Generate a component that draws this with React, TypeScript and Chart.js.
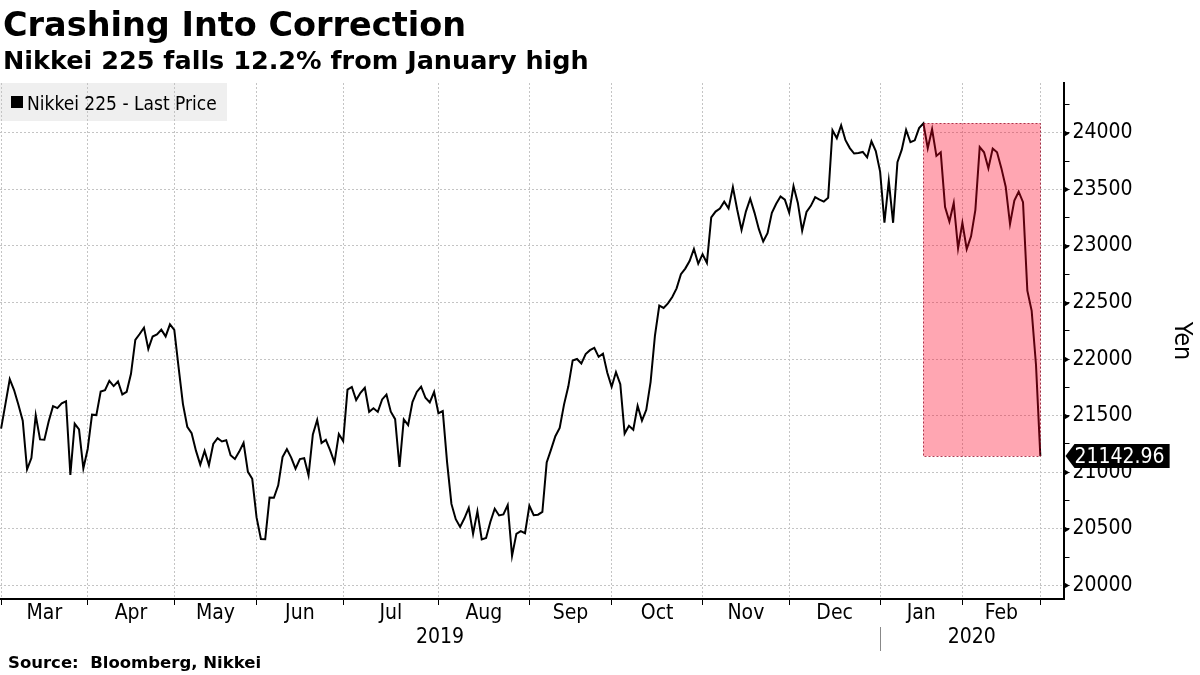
import React, { useEffect, useRef } from "react";
import { Chart, registerables } from "chart.js";

Chart.register(...registerables);

// Nikkei 225 daily closes, one per Tokyo trading day: 28 Feb 2019 .. 28 Feb 2020
const febEnd2019 = [21385.16];
const mar2019 = [21602.69, 21822.04, 21726.28, 21596.81, 21456.01, 21025.56, 21125.09, 21503.69, 21290.24, 21287.02, 21450.85, 21584.5, 21566.85, 21608.92, 21627.34, 20977.11, 21428.39, 21378.21, 21033.76, 21205.81];
const apr2019 = [21509.03, 21505.31, 21713.21, 21724.95, 21807.5, 21761.65, 21802.59, 21687.57, 21711.38, 21870.56, 22169.11, 22221.66, 22277.97, 22090.12, 22200.0, 22217.9, 22259.74, 22200.56, 22307.58, 22258.73];
const may2019 = [21923.72, 21602.59, 21402.13, 21344.92, 21191.28, 21067.23, 21188.56, 21062.98, 21250.09, 21301.73, 21272.45, 21283.37, 21151.14, 21117.22, 21182.58, 21260.14, 21003.37, 20942.53, 20601.19];
const jun2019 = [20410.88, 20408.54, 20776.1, 20774.04, 20884.71, 21134.42, 21204.28, 21129.72, 21032.0, 21116.89, 21124.0, 20972.71, 21333.87, 21462.86, 21258.64, 21285.99, 21193.81, 21086.59, 21338.17, 21275.92];
const jul2019 = [21729.97, 21754.27, 21638.16, 21702.45, 21746.38, 21534.35, 21565.15, 21533.48, 21643.53, 21685.9, 21535.25, 21469.18, 21046.24, 21466.99, 21416.79, 21620.88, 21709.57, 21756.55, 21658.15, 21616.8, 21709.31, 21521.53];
const aug2019 = [21540.99, 21087.16, 20720.29, 20585.31, 20516.56, 20593.35, 20684.82, 20455.44, 20655.13, 20405.65, 20418.81, 20563.16, 20677.22, 20618.57, 20628.01, 20710.91, 20261.04, 20456.08, 20479.42, 20460.93, 20704.37];
const sep2019 = [20620.19, 20625.16, 20649.14, 21085.94, 21199.57, 21318.42, 21392.1, 21597.76, 21759.61, 21988.29, 22001.32, 21960.71, 22044.45, 22079.09, 22098.84, 22020.15, 22048.24, 21878.9, 21755.84];
const oct2019 = [21885.24, 21778.61, 21341.74, 21410.2, 21375.25, 21587.78, 21456.38, 21551.98, 21798.87, 22207.21, 22472.92, 22451.86, 22492.68, 22548.9, 22625.38, 22750.6, 22799.81, 22867.27, 22974.13, 22843.12, 22927.04];
const nov2019 = [22850.77, 23251.99, 23303.82, 23330.32, 23391.87, 23331.84, 23520.01, 23319.87, 23141.55, 23303.32, 23416.76, 23292.65, 23148.57, 23038.58, 23112.88, 23292.81, 23373.32, 23437.77, 23409.14, 23293.91];
const dec2019 = [23529.5, 23379.81, 23135.23, 23300.09, 23354.4, 23430.7, 23410.19, 23391.86, 23424.81, 24023.1, 23952.35, 24066.12, 23934.43, 23864.85, 23816.63, 23821.11, 23830.58, 23782.87, 23924.92, 23837.72, 23656.62];
const jan2020 = [23204.86, 23575.72, 23204.76, 23739.87, 23850.57, 24025.17, 23916.58, 23933.13, 24041.26, 24083.51, 23864.56, 24031.35, 23795.44, 23827.18, 23343.51, 23215.71, 23379.4, 22977.75, 23205.18];
const feb2020 = [22971.94, 23084.59, 23319.56, 23873.59, 23827.98, 23685.98, 23861.21, 23827.73, 23687.59, 23523.24, 23193.8, 23400.7, 23479.15, 23386.74, 22605.41, 22426.19, 21948.23, 21142.96];

const monthBlocks = [mar2019, apr2019, may2019, jun2019, jul2019, aug2019, sep2019, oct2019, nov2019, dec2019, jan2020, feb2020];
const monthLabels = ["Mar", "Apr", "May", "Jun", "Jul", "Aug", "Sep", "Oct", "Nov", "Dec", "Jan", "Feb"];
const yearLabels = ["2019", "2020"];
const yearFirstMonth = [0, 10]; // index into monthLabels where each year begins
const yMajorTicks = [20000, 20500, 21000, 21500, 22000, 22500, 23000, 23500, 24000];
const yMinorTicks = [20250, 20750, 21250, 21750, 22250, 22750, 23250, 23750, 24250];
const yRange = [19880, 24440];

const seriesName = "Nikkei 225 - Last Price";
const axisTitle = "Yen";
const titleText = "Crashing Into Correction";
const subtitleText = "Nikkei 225 falls 12.2% from January high";
const sourceText = "Source:  Bloomberg, Nikkei";

const closes: number[] = [...febEnd2019, ...monthBlocks.flat()];
// index of the last trading day of each month (first entry = end of Feb 2019)
const monthEnds: number[] = [0];
monthBlocks.forEach((b) => monthEnds.push(monthEnds[monthEnds.length - 1] + b.length));

const COND = '"DejaVu Sans Condensed", "DejaVu Sans", sans-serif';
const BOLD = '"DejaVu Sans", sans-serif';

export default function App() {
  const ref = useRef<HTMLCanvasElement | null>(null);

  useEffect(() => {
    const canvas = ref.current;
    if (!canvas) return;
    const lastIdx = closes.length - 1;
    const lastVal = closes[lastIdx];
    let highIdx = 0;
    closes.forEach((v, i) => {
      if (v > closes[highIdx]) highIdx = i;
    });
    const highVal = closes[highIdx];

    const overlay = {
      id: "overlay",
      beforeDraw(chart: any) {
        const { ctx } = chart;
        ctx.save();
        ctx.fillStyle = "#ffffff";
        ctx.fillRect(0, 0, chart.width, chart.height);
        ctx.fillStyle = "#efefef";
        ctx.fillRect(0, chart.chartArea.top, 227, 38);
        ctx.restore();
      },
      afterDatasetsDraw(chart: any) {
        const { ctx } = chart;
        const xs = chart.scales.x;
        const ys = chart.scales.y;
        const x1 = xs.getPixelForValue(highIdx);
        const x2 = xs.getPixelForValue(lastIdx);
        const y1 = ys.getPixelForValue(highVal);
        const y2 = ys.getPixelForValue(lastVal);
        ctx.save();
        ctx.fillStyle = "rgba(255,0,35,0.35)";
        ctx.fillRect(x1, y1, x2 - x1, y2 - y1);
        ctx.setLineDash([2, 2]);
        ctx.lineWidth = 1;
        ctx.strokeStyle = "rgba(150,0,30,0.75)";
        ctx.strokeRect(Math.round(x1) + 0.5, Math.round(y1) + 0.5, Math.round(x2 - x1), Math.round(y2 - y1));
        ctx.restore();
      },
      afterDraw(chart: any) {
        const { ctx, chartArea } = chart;
        const xs = chart.scales.x;
        const ys = chart.scales.y;
        const axisX = chartArea.right;
        ctx.save();
        // major tick arrows
        ctx.fillStyle = "#000";
        yMajorTicks.forEach((v) => {
          const py = Math.round(ys.getPixelForValue(v)) + 0.5;
          ctx.beginPath();
          ctx.moveTo(axisX, py - 3.5);
          ctx.lineTo(axisX + 6, py);
          ctx.lineTo(axisX, py + 3.5);
          ctx.closePath();
          ctx.fill();
        });
        // month labels
        ctx.font = `21px ${COND}`;
        ctx.textAlign = "center";
        ctx.textBaseline = "middle";
        ctx.fillStyle = "#000";
        monthLabels.forEach((m, k) => {
          const cx = (xs.getPixelForValue(monthEnds[k]) + xs.getPixelForValue(monthEnds[k + 1])) / 2;
          ctx.fillText(m, cx, chartArea.bottom + 15);
        });
        // year labels
        yearLabels.forEach((yr, k) => {
          const startPx = k === 0 ? chartArea.left : xs.getPixelForValue(monthEnds[yearFirstMonth[k]]);
          const endPx = k + 1 < yearLabels.length ? xs.getPixelForValue(monthEnds[yearFirstMonth[k + 1]]) : chartArea.right;
          ctx.fillText(yr, (startPx + endPx) / 2, chartArea.bottom + 39);
        });
        // year separators
        ctx.strokeStyle = "#888";
        ctx.lineWidth = 1;
        yearFirstMonth.slice(1).forEach((m) => {
          const px = Math.round(xs.getPixelForValue(monthEnds[m])) + 0.5;
          ctx.beginPath();
          ctx.moveTo(px, chartArea.bottom + 28);
          ctx.lineTo(px, chartArea.bottom + 52);
          ctx.stroke();
        });
        // last value tag
        const ly = ys.getPixelForValue(lastVal);
        const label = lastVal.toFixed(2);
        ctx.font = `21px ${COND}`;
        const tw = ctx.measureText(label).width;
        const bx = axisX + 11;
        ctx.fillStyle = "#000";
        ctx.beginPath();
        ctx.moveTo(axisX + 2, ly);
        ctx.lineTo(bx, ly - 12);
        ctx.lineTo(bx + tw + 5, ly - 12);
        ctx.lineTo(bx + tw + 5, ly + 12);
        ctx.lineTo(bx, ly + 12);
        ctx.closePath();
        ctx.fill();
        ctx.fillStyle = "#fff";
        ctx.textAlign = "left";
        ctx.fillText(label, bx, ly + 1);
        // axis title
        ctx.fillStyle = "#000";
        ctx.save();
        ctx.font = `25px ${COND}`;
        ctx.translate(1175, (chartArea.top + chartArea.bottom) / 2);
        ctx.rotate(Math.PI / 2);
        ctx.textAlign = "center";
        ctx.textBaseline = "alphabetic";
        ctx.fillText(axisTitle, 0, 0);
        ctx.restore();
        // legend
        const ltop = chartArea.top;
        ctx.fillStyle = "#000";
        ctx.fillRect(11, ltop + 13, 12, 12);
        ctx.font = `19px ${COND}`;
        ctx.textAlign = "left";
        ctx.textBaseline = "alphabetic";
        ctx.fillText(seriesName, 27, ltop + 27);
        ctx.restore();
      },
    };

    const chart = new Chart(canvas, {
      type: "line",
      data: {
        datasets: [
          {
            label: seriesName,
            data: closes.map((v, i) => ({ x: i, y: v })),
            borderColor: "#000",
            borderWidth: 2,
            pointRadius: 0,
            tension: 0,
            fill: false,
          },
        ],
      },
      options: {
        animation: false,
        responsive: false,
        maintainAspectRatio: false,
        layout: { padding: { top: 83, left: 0, right: 0, bottom: 0 } },
        plugins: { legend: { display: false }, tooltip: { enabled: false } },
        scales: {
          x: {
            type: "linear",
            min: -0.25,
            max: 245.35,
            afterBuildTicks: (s: any) => {
              s.ticks = monthEnds.map((v) => ({ value: v }));
            },
            afterFit: (s: any) => {
              s.height = 76;
            },
            ticks: { display: false },
            grid: { color: "#c4c4c4", lineWidth: 1, drawTicks: true, tickLength: 6, tickColor: "#000", tickWidth: 1 },
            border: { display: true, color: "#000", width: 2, dash: [2, 2] },
          },
          y: {
            type: "linear",
            position: "right",
            min: yRange[0],
            max: yRange[1],
            afterBuildTicks: (s: any) => {
              s.ticks = [...yMajorTicks, ...yMinorTicks].sort((a, b) => a - b).map((v) => ({ value: v }));
            },
            afterFit: (s: any) => {
              s.width = 136.5;
            },
            ticks: {
              color: "#000",
              font: { family: COND, size: 21 },
              padding: 3,
              autoSkip: false,
              callback: (v: any) => (yMajorTicks.includes(Number(v)) ? String(v) : ""),
            },
            grid: {
              color: (c: any) => (c.tick && yMajorTicks.includes(c.tick.value) ? "#c4c4c4" : "rgba(0,0,0,0)"),
              lineWidth: 1,
              drawTicks: true,
              tickLength: 6,
              tickColor: "#000",
              tickWidth: 1,
            },
            border: { display: true, color: "#000", width: 2, dash: [2, 2] },
          },
        },
      },
      plugins: [overlay],
    } as any);

    return () => chart.destroy();
  }, []);

  return (
    <div style={{ position: "absolute", left: 0, top: 0, width: 1200, height: 675, background: "#fff", overflow: "hidden" }}>
      <canvas ref={ref} width={1200} height={675} style={{ display: "block", position: "absolute", left: 0, top: 0 }} />
      <div style={{ position: "absolute", left: 3, top: 8, font: `bold 33.5px ${BOLD}`, lineHeight: "33.5px", color: "#000", whiteSpace: "nowrap" }}>
        {titleText}
      </div>
      <div style={{ position: "absolute", left: 3, top: 47, font: `bold 25.5px ${BOLD}`, lineHeight: "26px", color: "#000", whiteSpace: "nowrap" }}>
        {subtitleText}
      </div>
      <div style={{ position: "absolute", left: 8, top: 654, font: `bold 16.5px ${BOLD}`, lineHeight: "18px", color: "#000", whiteSpace: "pre" }}>
        {sourceText}
      </div>
    </div>
  );
}
